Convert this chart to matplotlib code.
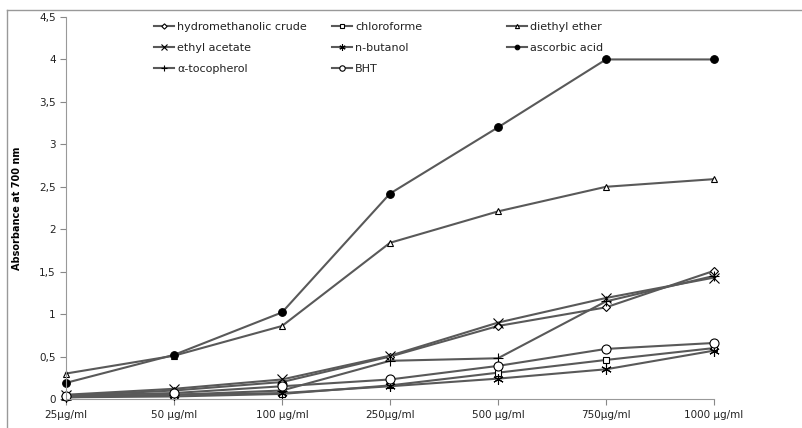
import numpy as np
import matplotlib
matplotlib.use("Agg")
import matplotlib.pyplot as plt
from matplotlib.lines import Line2D

# ---- data ----
concentrations = ["25µg/ml", "50 µg/ml", "100 µg/ml", "250µg/ml", "500 µg/ml", "750µg/ml", "1000 µg/ml"]

hydromethanolic = [0.04, 0.10, 0.20, 0.50, 0.86, 1.08, 1.51]
chloroforme = [0.02, 0.03, 0.06, 0.16, 0.31, 0.46, 0.60]
diethyl_ether = [0.30, 0.51, 0.86, 1.84, 2.21, 2.50, 2.59]
ethyl_acetate = [0.05, 0.12, 0.23, 0.51, 0.90, 1.19, 1.43]
n_butanol = [0.02, 0.05, 0.07, 0.15, 0.24, 0.35, 0.57]
ascorbic_acid = [0.19, 0.52, 1.02, 2.42, 3.20, 4.00, 4.00]
tocopherol = [0.03, 0.05, 0.10, 0.45, 0.48, 1.15, 1.45]
bht = [0.04, 0.07, 0.15, 0.23, 0.39, 0.59, 0.66]

series = [
    ("hydromethanolic crude", hydromethanolic, "D", "white", 4.5),
    ("chloroforme", chloroforme, "s", "white", 4.5),
    ("diethyl ether", diethyl_ether, "^", "white", 5),
    ("ethyl acetate", ethyl_acetate, "x", "white", 6.5),
    ("n-butanol", n_butanol, (6, 2, 0), "white", 7.5),
    ("ascorbic acid", ascorbic_acid, "o", "black", 5.5),
    ("α-tocopherol", tocopherol, "+", "white", 7.5),
    ("BHT", bht, "o", "white", 6.5),
]

plt.rcParams["font.family"] = ["DejaVu Sans"]
line_col = "#595959"

fig = plt.figure(figsize=(8.03, 4.28), dpi=100)
ax = fig.add_axes([66 / 803, 1 - 399 / 428, (714 - 66) / 803, (399 - 17) / 428])

x = np.arange(len(concentrations))
handles = {}
for name, vals, mk, fc, ms in series:
    h, = ax.plot(x, vals, color=line_col, linewidth=1.5, marker=mk, markersize=ms,
                 markerfacecolor=fc, markeredgecolor="black", markeredgewidth=0.8,
                 label=name, clip_on=False)
    handles[name] = h

ax.set_xlim(0, len(concentrations) - 1)
ax.set_ylim(0, 4.5)
ax.set_xticks(x)
ax.set_xticklabels(concentrations, fontsize=7.5, color="#222222")
yt = np.arange(0, 4.51, 0.5)
ax.set_yticks(yt)
ax.set_yticklabels([("%g" % v).replace(".", ",") for v in yt], fontsize=7.5, color="#222222")
ax.tick_params(axis="both", direction="out", length=4, color="#888888", width=0.8)
ax.tick_params(axis="x", pad=4)
ax.set_ylabel("Absorbance at 700 nm", fontsize=7, fontweight="bold", labelpad=12)
for s in ["top", "right"]:
    ax.spines[s].set_visible(False)
for s in ["left", "bottom"]:
    ax.spines[s].set_color("#999999")
    ax.spines[s].set_linewidth(0.8)

# legend in three separate columns
cols = [["hydromethanolic crude", "ethyl acetate", "α-tocopherol"],
        ["chloroforme", "n-butanol", "BHT"],
        ["diethyl ether", "ascorbic acid"]]
xpos = [154 / 803, 332 / 803, 507 / 803]
for names, xp in zip(cols, xpos):
    leg = fig.legend([handles[n] for n in names], names, loc="upper left",
                     bbox_to_anchor=(xp, 1 - 22 / 428), frameon=False, fontsize=8,
                     handlelength=1.8, handletextpad=0.3, labelspacing=0.97,
                     borderaxespad=0, borderpad=0, markerscale=0.6)
    for t in leg.get_texts():
        t.set_color("#222222")

# outer frame (left and top edges)
fig.add_artist(Line2D([7 / 803, 7 / 803], [0, 1 - 10 / 428], transform=fig.transFigure,
                      color="#999999", linewidth=1))
fig.add_artist(Line2D([7 / 803, 1], [1 - 10 / 428, 1 - 10 / 428], transform=fig.transFigure,
                      color="#999999", linewidth=1))

fig.savefig("out.png", dpi=100)
